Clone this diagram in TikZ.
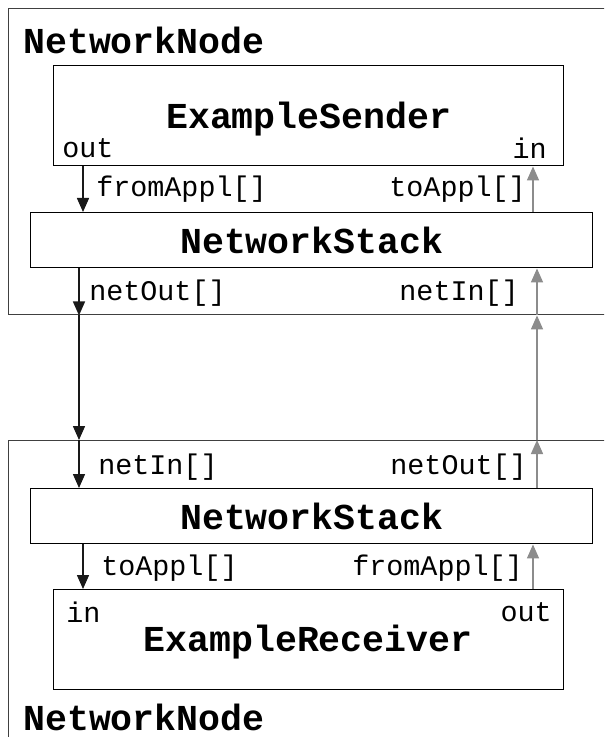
\documentclass[tikz,border=0pt]{standalone}
\usepackage{fontspec}
\setmonofont{Liberation Mono}
\usetikzlibrary{arrows.meta}
\def\px{0.75pt}

\begin{document}
\begin{tikzpicture}[x=0.75pt,y=-0.75pt,
    netnode/.style={draw=black!75, line width=1.1pt, inner sep=0pt, anchor=north west,
      minimum width=612*\px},
    module/.style={draw, line width=1.1pt, inner sep=0pt, anchor=north west, text depth=0pt,
      font=\fontsize{27.4}{30}\selectfont\ttfamily\bfseries},
    title/.style={inner sep=0pt, anchor=west, font=\fontsize{27.4}{30}\selectfont\ttfamily\bfseries},
    gate/.style={inner sep=0pt, font=\fontsize{21.3}{24}\selectfont\ttfamily},
    dn/.style={line width=1.1pt, draw=black!90, -{Triangle[length=10.5pt,width=9pt]}},
    upg/.style={line width=1.1pt, draw=black!45, -{Triangle[length=10.5pt,width=9pt]}}]
    \path[use as bounding box, clip] (0,0) rectangle (604,737);
    \fill[white] (0,0) rectangle (604,737);
    % upper network node (sender)
    \node[netnode, minimum height=306*\px] (up) at (8,8) {};
    \node[title] (upname) at (23,40) {NetworkNode};
    \node[module, minimum width=510*\px, minimum height=100*\px] (snd) at (53,65) {ExampleSender};
    \node[module, minimum width=562*\px, minimum height=55*\px] (stk1) at (30,212) {NetworkStack};
    \node[gate, anchor=west] (sndout) at (62,148) {out};
    \node[gate, anchor=east] (sndin) at (547,148) {in};
    \node[gate, anchor=west] (stk1from) at (96,189) {fromAppl[]};
    \node[gate, anchor=east] (stk1to) at (526,189) {toAppl[]};
    \node[gate, anchor=west] (stk1out) at (89,293) {netOut[]};
    \node[gate, anchor=east] (stk1in) at (519,293) {netIn[]};
    % lower network node (receiver)
    \node[netnode, minimum height=330*\px] (low) at (8,440) {};
    \node[title] (lowname) at (23,717) {NetworkNode};
    \node[module, minimum width=562*\px, minimum height=55*\px] (stk2) at (30,488) {NetworkStack};
    \node[module, minimum width=510*\px, minimum height=100*\px] (rcv) at (53,589) {};
    \node[title, anchor=center] (rcvname) at (308,642) {ExampleReceiver};
    \node[gate, anchor=west] (rcvin) at (66,612) {in};
    \node[gate, anchor=east] (rcvout) at (552,612) {out};
    \node[gate, anchor=west] (stk2in) at (98,467) {netIn[]};
    \node[gate, anchor=east] (stk2out) at (527,467) {netOut[]};
    \node[gate, anchor=west] (stk2to) at (101,568) {toAppl[]};
    \node[gate, anchor=east] (stk2from) at (523,568) {fromAppl[]};
    % gate columns
    \coordinate (cL) at (83,0);
    \coordinate (cl) at (79,0);
    \coordinate (cR) at (533,0);
    \coordinate (cr) at (537,0);
    % downward path
    \draw[dn] (cL |- snd.south) -- (cL |- stk1.north);
    \draw[dn] (cl |- stk1.south) -- (cl |- up.south);
    \draw[dn] (cl |- up.south) -- (cl |- low.north);
    \draw[dn] (cl |- low.north) -- (cl |- stk2.north);
    \draw[dn] (cL |- stk2.south) -- (cL |- rcv.north);
    % upward path
    \draw[upg] (cR |- rcv.north) -- (cR |- stk2.south);
    \draw[upg] (cr |- stk2.north) -- (cr |- low.north);
    \draw[upg] (cr |- low.north) -- (cr |- up.south);
    \draw[upg] (cr |- up.south) -- (cr |- stk1.south);
    \draw[upg] (cR |- stk1.north) -- (cR |- snd.south);
\end{tikzpicture}
\end{document}
